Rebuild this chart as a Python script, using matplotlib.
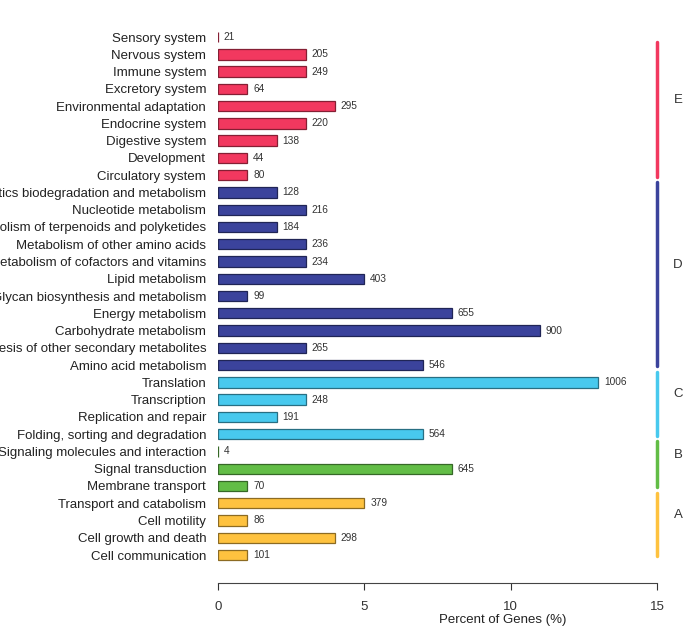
import numpy as np
import matplotlib.pyplot as plt
from matplotlib.colors import to_rgb

plt.rcParams['font.family'] = ['Liberation Sans', 'DejaVu Sans']

# categories top to bottom
categories = [
    "Sensory system", "Nervous system", "Immune system", "Excretory system",
    "Environmental adaptation", "Endocrine system", "Digestive system",
    "Development", "Circulatory system",
    "Xenobiotics biodegradation and metabolism", "Nucleotide metabolism",
    "Metabolism of terpenoids and polyketides", "Metabolism of other amino acids",
    "Metabolism of cofactors and vitamins", "Lipid metabolism",
    "Glycan biosynthesis and metabolism", "Energy metabolism",
    "Carbohydrate metabolism", "Biosynthesis of other secondary metabolites",
    "Amino acid metabolism",
    "Translation", "Transcription", "Replication and repair",
    "Folding, sorting and degradation",
    "Signaling molecules and interaction", "Signal transduction", "Membrane transport",
    "Transport and catabolism", "Cell motility", "Cell growth and death",
    "Cell communication",
]
percent = [0, 3, 3, 1, 4, 3, 2, 1, 1,
           2, 3, 2, 3, 3, 5, 1, 8, 11, 3, 7,
           13, 3, 2, 7,
           0, 8, 1,
           5, 1, 4, 1]
counts = [21, 205, 249, 64, 295, 220, 138, 44, 80,
          128, 216, 184, 236, 234, 403, 99, 655, 900, 265, 546,
          1006, 248, 191, 564,
          4, 645, 70,
          379, 86, 298, 101]
groups = ["E"] * 9 + ["D"] * 11 + ["C"] * 4 + ["B"] * 3 + ["A"] * 4
group_order = ["E", "D", "C", "B", "A"]
group_colors = {"E": "#F2385F", "D": "#3B439C", "C": "#48C9EE", "B": "#62BD46", "A": "#FEC23F"}

n = len(categories)
ypos = np.arange(n)[::-1]  # top row highest

fig = plt.figure(figsize=(6.91, 6.28), dpi=100)
ax = fig.add_axes([0.3155, 0.0717, 0.6353, 0.8885])

colors = [group_colors[g] for g in groups]
edges = [tuple(0.55 * v for v in to_rgb(c)) for c in colors]
ax.barh(ypos, percent, height=0.6, color=colors, edgecolor=edges, linewidth=0.9)

for y, p, c in zip(ypos, percent, counts):
    ax.text(p + 0.2, y, str(c), va="center", ha="left", fontsize=7.3, color="#333333")

ax.set_yticks(ypos)
ax.set_yticklabels(categories, fontsize=9.5, color="#222222")
ax.tick_params(axis="y", length=0, pad=8.5)

ax.set_xlim(0, 15)
ax.set_ylim(-1.62, n - 1 + 0.7)
ax.set_xticks([0, 5, 10, 15])
ax.tick_params(axis="x", labelsize=9.5, colors="#333333", length=5, pad=8)
ax.set_xlabel("Percent of Genes (%)", fontsize=9.5, color="#222222")
ax.xaxis.set_label_coords(0.649, -0.056)

for s in ["top", "right", "left"]:
    ax.spines[s].set_visible(False)
ax.spines["bottom"].set_bounds(0, 15)
ax.spines["bottom"].set_color("#444444")

# group brackets on the right
for i, g in enumerate(group_order):
    rows = [r for r, gg in enumerate(groups) if gg == g]
    first, last = rows[0], rows[-1]
    top = first + 0.3 if i == 0 else first - 0.62
    bottom = last + 0.08
    y_top = n - 1 - top
    y_bot = n - 1 - bottom
    ax.plot([15, 15], [y_top, y_bot], color=group_colors[g], lw=2.5,
            solid_capstyle="round", clip_on=False)
    ax.text(15.72, (y_top + y_bot) / 2 + 0.55, g, ha="center", va="center",
            fontsize=9.5, color="#333333", clip_on=False)

fig.savefig("out.png", dpi=100)
